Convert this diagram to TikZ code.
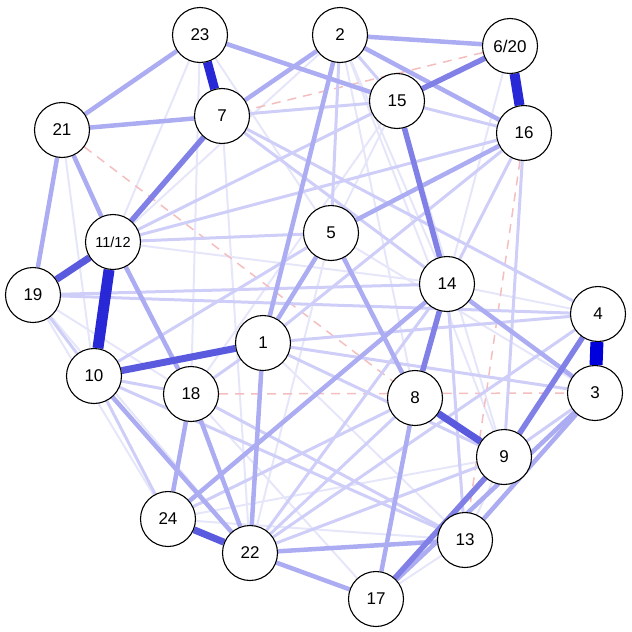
\documentclass[tikz,border=0pt]{standalone}
\usepackage{fontspec}
\setmainfont{Liberation Sans}
\usetikzlibrary{backgrounds}
\definecolor{cs1}{RGB}{0,0,220}
\definecolor{cs2}{RGB}{40,40,215}
\definecolor{cs3}{RGB}{90,90,222}
\definecolor{cs4}{RGB}{128,128,230}
\definecolor{cm}{RGB}{172,172,242}
\definecolor{cl}{RGB}{206,206,248}
\definecolor{cf}{RGB}{230,230,251}
\definecolor{cneg}{RGB}{245,190,190}
\tikzset{
  vert/.style={circle, draw=black, line width=1.1pt, fill=white, minimum size=55pt, inner sep=0pt, font=\fontsize{17}{17}\selectfont},
  small/.style={font=\fontsize{14.5}{15}\selectfont},
  ef/.style={draw=cf, line width=2pt},
  el/.style={draw=cl, line width=3pt},
  em/.style={draw=cm, line width=4.5pt},
  es4/.style={draw=cs4, line width=5.5pt},
  es3/.style={draw=cs3, line width=7pt},
  es2/.style={draw=cs2, line width=10pt},
  es1/.style={draw=cs1, line width=13pt},
  eneg/.style={draw=cneg, line width=1.5pt, dash pattern=on 9pt off 7pt},
}
\begin{document}
\begin{tikzpicture}[x=1pt,y=-1pt]
\useasboundingbox (0,0) rectangle (632,632);
\node[vert] (n23) at (200,35) {23};
\node[vert] (n2) at (340,35) {2};
\node[vert] (n620) at (510,46) {6/20};
\node[vert] (n15) at (397,101) {15};
\node[vert] (n16) at (524,133) {16};
\node[vert] (n21) at (62,130) {21};
\node[vert] (n7) at (222,116) {7};
\node[vert] (n5) at (331,233) {5};
\node[vert,small] (n1112) at (113,242) {11/12};
\node[vert] (n14) at (447,284) {14};
\node[vert] (n19) at (33,295) {19};
\node[vert] (n4) at (598,314) {4};
\node[vert] (n1) at (263,343) {1};
\node[vert] (n10) at (94,376) {10};
\node[vert] (n18) at (191,394) {18};
\node[vert] (n3) at (595,393) {3};
\node[vert] (n8) at (415,398) {8};
\node[vert] (n9) at (504,457) {9};
\node[vert] (n24) at (168,519) {24};
\node[vert] (n13) at (465,540) {13};
\node[vert] (n22) at (250,553) {22};
\node[vert] (n17) at (376,599) {17};
\begin{scope}[on background layer]
% faint
\foreach \a/\b in {n23/n1112, n23/n18, n23/n5, n7/n22, n21/n10, n2/n1112, n2/n14, n2/n8, n15/n5, n15/n18, n620/n14, n19/n18, n19/n22, n19/n24, n18/n17, n1/n13, n24/n13, n14/n4, n13/n9, n13/n17, n5/n22, n5/n3, n15/n9, n1112/n14, n24/n9, n2/n9}
  \path[ef] (\a) -- (\b);
% negative
\foreach \a/\b in {n21/n8, n18/n3, n620/n7, n16/n13}
  \path[eneg] (\a) -- (\b);
% light
\foreach \a/\b in {n2/n5, n2/n15, n15/n16, n15/n7, n16/n14, n10/n24, n19/n10, n14/n13, n1/n18, n1112/n15, n1112/n16, n7/n14, n19/n14, n19/n4, n10/n18, n1/n9, n1/n3, n1/n4, n10/n13, n18/n13, n22/n9, n22/n8, n14/n22, n16/n9, n5/n10, n1112/n5, n7/n4, n4/n22, n24/n8, n16/n1, n9/n3}
  \path[el] (\a) -- (\b);
% medium
\foreach \a/\b in {n23/n21, n21/n7, n21/n19, n21/n1112, n23/n15, n2/n620, n2/n16, n2/n7, n16/n5, n5/n8, n1/n22, n18/n24, n18/n22, n10/n22, n22/n17, n8/n17, n14/n3, n3/n17, n3/n13, n5/n1, n2/n1, n24/n14, n1112/n18, n22/n13}
  \path[em] (\a) -- (\b);
% strong
\foreach \a/\b in {n15/n620, n15/n14, n7/n1112, n4/n9, n14/n8, n9/n17}
  \path[es4] (\a) -- (\b);
\foreach \a/\b in {n10/n1, n24/n22, n1112/n19, n8/n9}
  \path[es3] (\a) -- (\b);
\path[es2, line width=9pt] (n23) -- (n7);
\path[es2] (n620) -- (n16);
\path[es2, line width=11pt] (n1112) -- (n10);
\path[es1] (n4) -- (n3);
\end{scope}
\end{tikzpicture}
\end{document}
